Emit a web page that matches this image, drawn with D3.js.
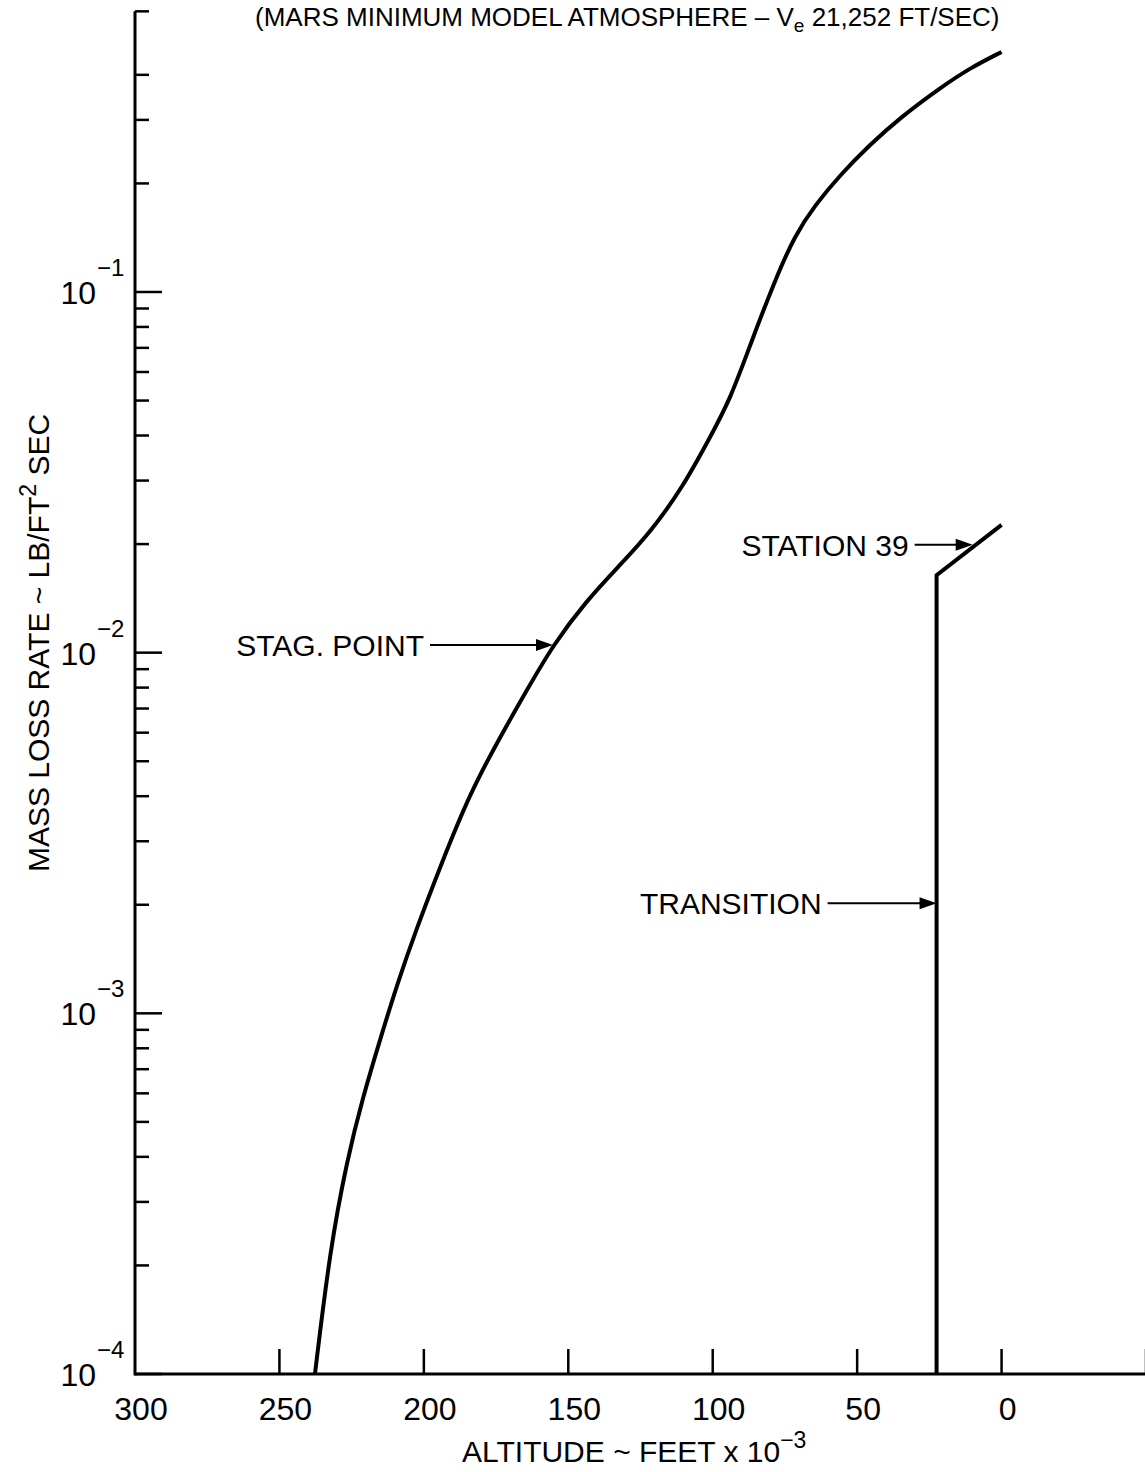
<!DOCTYPE html>
<html>
<head>
<meta charset="utf-8">
<script src="https://cdn.jsdelivr.net/npm/d3@7"></script>
<style>
body { margin: 0; background: #fff; }
text { font-family: "Liberation Sans", Arial, sans-serif; fill: #000; }
</style>
</head>
<body>
<script>
// stagnation point curve, altitude in kft, rate in lb/ft^2 sec
var stagAltitude = [237.7, 232.5, 226.6, 221.1, 215.2, 209, 203.1, 193.7, 184, 173.6, 164.3, 155.3, 143.5, 132.1, 121.7, 110.3, 100.9, 94, 86.4, 78.4, 71.5, 64.6, 55.9, 45.6, 35.2, 21.3, 10.9, 0];
var stagRate = [1.0e-4, 2.21e-4, 3.92e-4, 5.86e-4, 8.44e-4, 1.22e-3, 1.67e-3, 2.63e-3, 4.08e-3, 5.84e-3, 7.88e-3, 1.05e-2, 1.40e-2, 1.75e-2, 2.15e-2, 2.88e-2, 3.96e-2, 5.02e-2, 7.36e-2, 0.108, 0.144, 0.174, 0.211, 0.256, 0.304, 0.368, 0.418, 0.463];

// station 39 curve
var stationAltitude = [22.5, 22.5, 0];
var stationRate = [1.0e-4, 0.0164, 0.0226];

var xTickValues = [300, 250, 200, 150, 100, 50, 0, -50];
var xTickLabels = ["300", "250", "200", "150", "100", "50", "0", ""];

var yDecades = [1e-4, 1e-3, 1e-2, 1e-1];
var yDecadeExponents = ["-4", "-3", "-2", "-1"];
var yMinorTicks = [0.0002, 0.0003, 0.0004, 0.0005, 0.0006, 0.0007, 0.0008, 0.0009,
    0.002, 0.003, 0.004, 0.005, 0.006, 0.007, 0.008, 0.009,
    0.02, 0.03, 0.04, 0.05, 0.06, 0.07, 0.08, 0.09,
    0.2, 0.3, 0.4, 0.6];

var annotations = [
    {text: "STAG. POINT", alt: 155.3, rate: 1.05e-2, len: 123},
    {text: "STATION 39", alt: 10, rate: 0.0199, len: 58},
    {text: "TRANSITION", alt: 22.5, rate: 2.02e-3, len: 109}
];

var width = 1145,
    height = 1472;

var svg = d3.select("body").append("svg")
    .attr("width", width)
    .attr("height", height);
svg.append("rect").attr("width", width).attr("height", height).attr("fill", "white");

var x = d3.scaleLinear().domain([300, -50]).range([135, 1146]);
var decadePx = 360.67;
var y = d3.scaleLog().domain([1e-4, 0.6]).range([1374, 1374 - decadePx * Math.log10(6000)]);

//title
var title = svg.append("text")
    .attr("x", 255)
    .attr("y", 26)
    .style("font-size", "26px");
title.append("tspan").text("(MARS MINIMUM MODEL ATMOSPHERE \u2013 V");
title.append("tspan").attr("dy", 6).style("font-size", "19px").text("e");
title.append("tspan").attr("dy", -6).text(" 21,252 FT/SEC)");

//axes
var axisG = svg.append("g").attr("stroke", "black").attr("fill", "none");
axisG.append("line")
    .attr("x1", x(300)).attr("x2", x(300))
    .attr("y1", y(0.6)).attr("y2", y(1e-4) + 1.5)
    .attr("stroke-width", 3);
axisG.append("line")
    .attr("x1", x(300)).attr("x2", width)
    .attr("y1", y(1e-4)).attr("y2", y(1e-4))
    .attr("stroke-width", 3);

axisG.selectAll(".ymaj").data(yDecades).enter().append("line")
    .attr("x1", x(300)).attr("x2", x(300) + 27)
    .attr("y1", (d) => y(d)).attr("y2", (d) => y(d))
    .attr("stroke-width", 2.5);
axisG.selectAll(".ymin").data(yMinorTicks).enter().append("line")
    .attr("x1", x(300)).attr("x2", x(300) + 14)
    .attr("y1", (d) => y(d)).attr("y2", (d) => y(d))
    .attr("stroke-width", 2.5);
axisG.selectAll(".xt").data(xTickValues.slice(1)).enter().append("line")
    .attr("x1", (d) => x(d)).attr("x2", (d) => x(d))
    .attr("y1", y(1e-4)).attr("y2", y(1e-4) - 25)
    .attr("stroke-width", 2.5);

//tick labels
svg.selectAll(".xl").data(xTickValues).enter().append("text")
    .attr("x", (d) => x(d) + 6)
    .attr("y", 1420)
    .attr("text-anchor", "middle")
    .style("font-size", "32px")
    .text((d, i) => xTickLabels[i]);

yDecades.forEach(function (d, i) {
    svg.append("text")
        .attr("x", 96)
        .attr("y", y(d) + 12)
        .attr("text-anchor", "end")
        .style("font-size", "32px")
        .text("10");
    svg.append("text")
        .attr("x", 97)
        .attr("y", y(d) - 16)
        .style("font-size", "24px")
        .text(yDecadeExponents[i].replace("-", "\u2212"));
});

//axis titles
var xt = svg.append("text")
    .attr("x", 462)
    .attr("y", 1462)
    .style("font-size", "30px");
xt.append("tspan").text("ALTITUDE ~ FEET x 10");
xt.append("tspan").attr("dy", -14).style("font-size", "23px").text("\u22123");

var yt = svg.append("text")
    .attr("transform", "translate(49," + 643 + ") rotate(-90)")
    .attr("text-anchor", "middle")
    .style("font-size", "30px");
yt.append("tspan").text("MASS LOSS RATE ~ LB/FT");
yt.append("tspan").attr("dy", -13).style("font-size", "23px").text("2");
yt.append("tspan").attr("dy", 13).text(" SEC");

//curves
var stagPts = stagAltitude.map((a, i) => [x(a), y(stagRate[i])]);
svg.append("path")
    .attr("d", d3.line().curve(d3.curveBasis)(stagPts))
    .attr("fill", "none")
    .attr("stroke", "black")
    .attr("stroke-width", 4)
    .attr("stroke-linejoin", "round");

var stationPts = stationAltitude.map((a, i) => [x(a), y(stationRate[i])]);
svg.append("path")
    .attr("d", d3.line()(stationPts))
    .attr("fill", "none")
    .attr("stroke", "black")
    .attr("stroke-width", 4);

//arrows and labels
annotations.forEach(function (a) {
    var tx = x(a.alt), ty = y(a.rate);
    svg.append("line")
        .attr("x1", tx - a.len).attr("x2", tx - 10)
        .attr("y1", ty).attr("y2", ty)
        .attr("stroke", "black")
        .attr("stroke-width", 2);
    svg.append("path")
        .attr("d", "M" + tx + "," + ty + " L" + (tx - 17) + "," + (ty - 6) + " L" + (tx - 17) + "," + (ty + 6) + "Z")
        .attr("fill", "black");
    svg.append("text")
        .attr("x", tx - a.len - 6)
        .attr("y", ty + 11)
        .attr("text-anchor", "end")
        .style("font-size", "30px")
        .text(a.text);
});
</script>
</body>
</html>
